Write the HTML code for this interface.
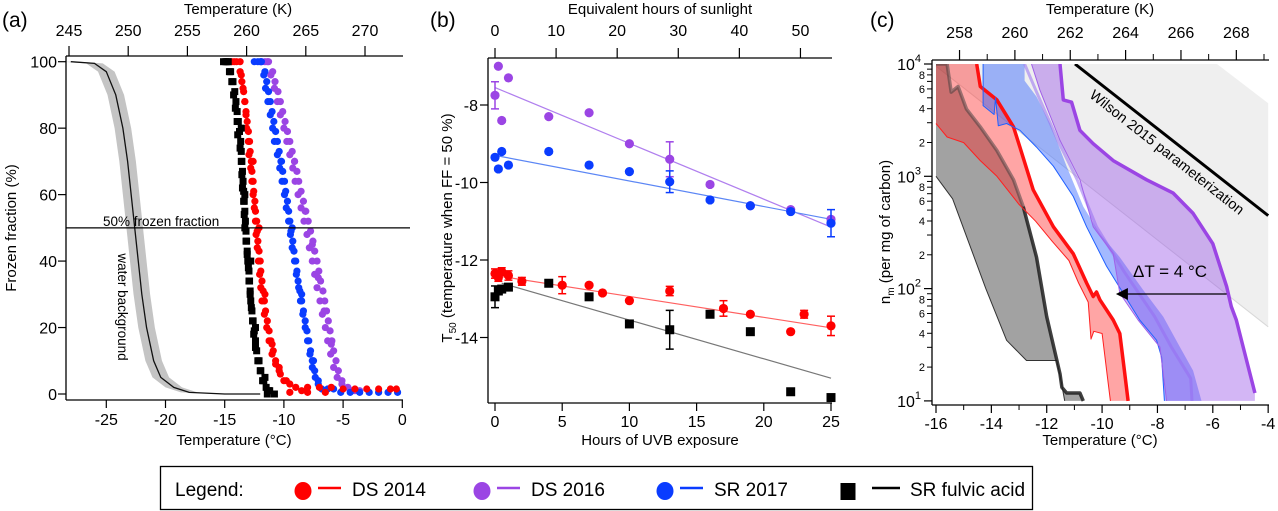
<!DOCTYPE html>
<html><head><meta charset="utf-8">
<style>
html,body{margin:0;padding:0;background:#fff;}
svg{display:block;font-family:"Liberation Sans",Arial,sans-serif;}
</style></head>
<body>
<svg id="fig" width="1278" height="511" viewBox="0 0 1278 511" xmlns="http://www.w3.org/2000/svg">
<defs>
<clipPath id="clipC"><rect x="933" y="64" width="336" height="338"/></clipPath>
</defs>
</svg>
<script>
// ---------- Panel (a) data: [temperature °C, frozen fraction %] ----------
const waterCurve = [[-28,100],[-26,99.5],[-25.0,97],[-24.2,90],[-23.6,80],[-23.2,70],[-22.9,60],[-22.6,50],[-22.3,40],[-22.0,30],[-21.6,20],[-21.0,10],[-20.4,5],[-19.3,2],[-18,0.5],[-15,0],[-12,0]];
const ffLevels = [100,97,94,91,88,85,82,79,76,73,70,67,64,61,58,55,52,49,46,43,40,37,34,31,28,25,22,19,16,13,10,7,4,1];
const fulvicLevelT = [-14.8,-14.5,-14.3,-14.15,-14.05,-13.95,-13.85,-13.75,-13.65,-13.6,-13.55,-13.5,-13.45,-13.4,-13.35,-13.3,-13.25,-13.2,-13.15,-13.1,-13.05,-12.95,-12.9,-12.85,-12.8,-12.7,-12.6,-12.5,-12.4,-12.3,-12.1,-11.95,-11.7,-11.3];
const ds2014LevelT = [-14.2,-13.7,-13.55,-13.4,-13.3,-13.2,-13.1,-13.0,-12.9,-12.85,-12.75,-12.7,-12.6,-12.55,-12.45,-12.4,-12.3,-12.25,-12.2,-12.1,-12.0,-11.95,-11.85,-11.75,-11.65,-11.55,-11.4,-11.25,-11.1,-10.9,-10.7,-10.4,-9.8,-8.5];
const sr2017LevelT = [-12.0,-11.6,-11.45,-11.3,-11.15,-11.0,-10.85,-10.7,-10.55,-10.4,-10.25,-10.1,-9.95,-9.85,-9.7,-9.6,-9.5,-9.4,-9.25,-9.15,-9.0,-8.9,-8.8,-8.65,-8.5,-8.35,-8.2,-8.05,-7.9,-7.75,-7.6,-7.4,-7.1,-6.5];
const ds2016LevelT = [-11.4,-10.95,-10.75,-10.5,-10.3,-10.1,-9.9,-9.7,-9.5,-9.3,-9.1,-8.9,-8.75,-8.55,-8.35,-8.15,-7.95,-7.75,-7.55,-7.4,-7.2,-7.05,-6.9,-6.7,-6.55,-6.4,-6.25,-6.1,-5.95,-5.8,-5.6,-5.4,-5.1,-4.3];
const ds2014A = [[-14.8,100],[-14.4,100],[-14.0,100],[-13.7,100],[-13.6,96],[-13.45,92],[-13.3,88],[-13.2,84],[-13.15,80],[-13.0,76],[-12.95,72],[-12.8,68],[-12.7,64],[-12.6,60],[-12.5,56],[-12.4,52],[-12.35,48],[-12.25,44],[-12.15,40],[-12.05,36],[-11.95,32],[-11.85,28],[-11.65,24],[-11.45,20],[-11.25,16],[-11.0,12],[-10.7,9],[-10.3,6],[-10.0,4],[-9.5,3],[-9.0,2],[-8.0,2],[-7.0,2],[-6.0,2],[-5,1.5],[-4,1.5],[-3,1.5],[-2,1.5],[-1,1.5],[-0.5,1.5],[-9.5,0.5],[-8,0.5],[-6.5,0.5],[-12.6,70],[-12.1,50],[-11.6,30],[-11.0,15],[-10.4,8]];
const ds2016A = [[-11.9,100],[-11.6,100],[-11.3,100],[-11.1,96],[-10.8,92],[-10.55,88],[-10.3,84],[-10.0,80],[-9.75,76],[-9.5,72],[-9.25,68],[-9.05,64],[-8.8,60],[-8.55,56],[-8.3,52],[-8.05,48],[-7.85,44],[-7.6,40],[-7.4,36],[-7.2,32],[-6.95,28],[-6.75,24],[-6.5,20],[-6.3,16],[-6.05,12],[-5.8,8],[-5.5,5],[-5.1,3],[-4.6,2],[-4.0,1],[-3.6,1],[-9.1,70],[-8.2,55],[-7.6,45],[-7.1,35],[-6.6,25],[-6.0,15]];
const sr2017A = [[-12.5,100],[-12.2,100],[-11.9,100],[-11.7,96],[-11.55,92],[-11.35,88],[-11.15,84],[-10.95,80],[-10.8,76],[-10.55,72],[-10.35,68],[-10.15,64],[-9.95,60],[-9.8,56],[-9.6,52],[-9.45,48],[-9.3,44],[-9.1,40],[-8.95,36],[-8.75,32],[-8.6,28],[-8.4,24],[-8.2,20],[-8.0,16],[-7.8,12],[-7.6,8],[-7.35,5],[-7.1,3],[-6.8,1.5],[-6.3,1.5],[-5.8,1.5],[-5.2,0.5],[-4.4,0.5],[-3.6,0.5],[-2.8,0.5],[-2,0.5],[-1.2,0.5],[-0.4,0.5],[-10.2,70],[-9.3,50],[-8.5,30],[-7.5,10]];
const fulvicA = [[-15.1,100],[-14.9,100],[-14.7,100],[-14.6,97],[-14.4,94],[-14.25,90],[-14.1,86],[-13.95,82],[-13.9,78],[-13.7,74],[-13.6,70],[-13.55,66],[-13.5,62],[-13.4,58],[-13.35,54],[-13.3,50],[-13.2,46],[-13.1,42],[-13.0,38],[-12.95,34],[-12.85,30],[-12.75,26],[-12.65,22],[-12.55,18],[-12.4,14],[-12.2,10],[-12.0,7],[-11.8,4],[-11.5,2],[-11.2,1],[-10.8,0],[-13.6,80],[-13.3,60],[-12.8,40],[-12.4,20],[-11.6,5],[-11.4,0]];
const aXTicks = [-25,-20,-15,-10,-5,0];
const aYTicks = [0,20,40,60,80,100];
const aKTicks = [245,250,255,260,265,270];

// ---------- Panel (b) data ----------
const hoursB = [0,0.25,0.5,1,4,7,10,13,16,19,22,25];
const ds2016B = [-7.75,-7.0,-8.4,-7.3,-8.3,-8.2,-9.0,-9.4,-10.05,-10.6,-10.7,-10.95];
const ds2016Err = [0.35,0,0,0,0,0,0,0.45,0,0,0,0];
const sr2017B = [-9.35,-9.65,-9.2,-9.55,-9.2,-9.55,-9.72,-9.98,-10.45,-10.6,-10.75,-11.05];
const sr2017Err = [0,0,0,0,0,0,0,0.28,0,0,0,0.35];
const hoursRed = [0,0.25,0.5,1,2,5,7,8,10,13,17,19,22,23,25];
const ds2014B = [-12.35,-12.45,-12.3,-12.4,-12.55,-12.65,-12.65,-12.85,-13.05,-12.8,-13.25,-13.4,-13.85,-13.4,-13.7];
const ds2014Err = [0.12,0.1,0.1,0.12,0.1,0.22,0,0,0,0.12,0.2,0,0,0.1,0.25];
const fulvicB = [-12.95,-12.8,-12.75,-12.7,-12.6,-12.95,-13.65,-13.8,-13.4,-13.85,-15.4,-15.55];
const fulvicErr = [0.28,0,0,0,0,0,0,0.5,0,0,0,0];
const fitDs2016 = [[0,-7.55],[25,-11.15]];
const fitSr2017 = [[0,-9.3],[25,-10.95]];
const fitDs2014 = [[0,-12.4],[25,-13.75]];
const fitFulvic = [[0.5,-12.6],[25,-15.05]];
const bXTicks = [0,5,10,15,20,25];
const bYTicks = [-8,-10,-12,-14];
const bTopTicks = [0,10,20,30,40,50];

// ---------- Panel (c) data: [temperature °C, log10 n_m] ----------
const fulvicUpper = [[-16,4],[-15.6,4],[-15.45,3.75],[-15.2,3.8],[-14.9,3.6],[-14.4,3.44],[-13.8,3.23],[-13.2,2.97],[-12.85,2.73],[-12.37,2.28],[-12.0,1.75],[-11.52,1.24],[-11.45,1.12],[-11.28,1.07],[-10.8,1.07],[-10.68,1.0]];
const fulvicLower = [[-16,3.0],[-15.4,2.8],[-14.8,2.4],[-14.2,2.0],[-13.45,1.54],[-12.73,1.36],[-11.64,1.36],[-11.5,1.2],[-11.35,1.0]];
const ds2014Right = [[-14.53,4],[-14.4,3.8],[-13.8,3.68],[-13.2,3.44],[-12.97,3.26],[-12.49,2.88],[-11.76,2.55],[-11.04,2.31],[-10.56,2.05],[-10.32,1.93],[-10.2,1.97],[-10.08,1.9],[-9.6,1.72],[-9.36,1.6],[-9.18,1.24],[-9.06,1.0]];
const ds2014Left = [[-16,3.47],[-15.6,3.35],[-15.0,3.3],[-14.4,3.14],[-13.8,3.0],[-13.0,2.75],[-12.4,2.6],[-11.8,2.42],[-11.2,2.25],[-10.85,2.05],[-10.5,1.88],[-10.4,1.55],[-10.3,1.62],[-10.0,1.6],[-9.8,1.2],[-9.7,1.0]];
const sr2017Right = [[-12.8,4],[-12.8,3.85],[-12.37,3.71],[-11.88,3.47],[-11.28,3.09],[-10.68,2.73],[-10.08,2.49],[-9.36,2.28],[-8.52,1.99],[-7.79,1.75],[-7.19,1.48],[-6.71,1.27],[-6.41,1.0]];
const sr2017Left = [[-14.3,4],[-14.3,3.63],[-13.9,3.55],[-13.85,3.7],[-13.75,3.45],[-13.45,3.47],[-12.97,3.41],[-12.37,3.26],[-11.76,3.09],[-11.04,2.82],[-10.56,2.55],[-9.84,2.2],[-9.24,1.96],[-8.64,1.72],[-8.03,1.54],[-7.85,1.39],[-7.75,1.0]];
const ds2016Right = [[-11.52,4],[-11.4,3.68],[-11.1,3.66],[-10.8,3.41],[-10.32,3.29],[-9.6,3.14],[-8.4,2.97],[-7.43,2.85],[-6.71,2.67],[-6.0,2.4],[-5.5,2.02],[-5.33,1.84],[-5.15,1.72],[-4.78,1.36],[-4.48,1.07]];
const ds2016Left = [[-12.55,4],[-12.25,3.77],[-11.52,3.32],[-10.8,2.97],[-10.32,2.55],[-9.6,2.31],[-9.36,1.96],[-8.7,1.72],[-7.91,1.48],[-7.67,1.0]];
const ds2016Mid = [[-12.8,4],[-12.4,3.77],[-11.6,3.32],[-10.9,2.97],[-10.2,2.55],[-9.2,2.15],[-8.1,1.75],[-7.5,1.48],[-6.8,1.2],[-6.75,1.0]];
const wilsonBand = [[-16,3.98],[-16,4],[-5.85,4],[-4,3.65],[-4,1.66]];
const wilsonLine = [[-10.98,4],[-4,2.65]];
const cXTicks = [-16,-14,-12,-10,-8,-6,-4];
const cDecades = [1,2,3,4];
const cKTicks = [258,260,262,264,266,268];

// ---------- helpers ----------
const NS='http://www.w3.org/2000/svg';
const svg=document.getElementById('fig');
function mk(tag, parent){const e=document.createElementNS(NS,tag);(parent||svg).appendChild(e);return e;}
function set(e,o){for(const k in o)e.setAttribute(k,o[k]);return e;}
function txt(s,x,y,size,anchor,parent){const t=mk('text',parent);set(t,{x:x,y:y,'font-size':size,'text-anchor':anchor||'middle',fill:'#000'});t.textContent=s;return t;}
function line(x1,y1,x2,y2,w,c,parent){const l=mk('line',parent);set(l,{x1:x1,y1:y1,x2:x2,y2:y2,stroke:c||'#000','stroke-width':w||1});return l;}

// scales
const ax=T=>402.3+T*11.84, ay=f=>394-f*3.323;
const bx=h=>495+h*13.44, by=v=>105-(v+8)*38.75;
const cx=T=>936+(T+16)*27.68, cy=L=>64+(4-L)*112.3;

// ================= Panel (a) =================
const gA=mk('g');


let t=txt('(a)',2,27,21,'start',gA);


const band=mk('path',gA);


{let up=waterCurve.map(p=>[ax(p[0]-0.7),ay(p[1])]);let lo=waterCurve.map(p=>[ax(p[0]+0.7),ay(p[1])]).reverse();
 band.setAttribute('d','M'+up.concat(lo).map(p=>p.join(',')).join('L')+'Z');band.setAttribute('fill','#c4c4c4');}
const wl=mk('polyline',gA);


set(wl,{points:waterCurve.map(p=>ax(p[0])+','+ay(p[1])).join(' '),fill:'none',stroke:'#111','stroke-width':1.3});
function scatterA(arr,levelT,color,square,name){
  const g=mk('g',gA);
  
  
  const pts=arr.concat(levelT.map((T,i)=>[T,ffLevels[i]]));
  pts.forEach(p=>{let m;
    if(square){m=mk('rect',g);set(m,{x:ax(p[0])-3.5,y:ay(p[1])-3.5,width:7,height:7,fill:color});}
    else{m=mk('circle',g);set(m,{cx:ax(p[0]),cy:ay(p[1]),r:3.6,fill:color});}
    
    
  });
}
scatterA(ds2016A,ds2016LevelT,'#9b45e4',false,'ds2016-frozen-fraction');
scatterA(sr2017A,sr2017LevelT,'#0a3cff',false,'sr2017-frozen-fraction');
scatterA(ds2014A,ds2014LevelT,'#ff0000',false,'ds2014-frozen-fraction');
scatterA(fulvicA,fulvicLevelT,'#000',true,'fulvic-frozen-fraction');
let hl=line(66,ay(50),410,ay(50),1.3,'#000',gA);


t=txt('50% frozen fraction',103,226,13.5,'start',gA);


t=txt('water background',0,0,13.5,'middle',gA);set(t,{transform:'translate(118,307) rotate(90)'});


let l=line(66,56,66,400,1.3,'#000',gA);
l=line(66,400,403,400,1.3,'#000',gA);
l=line(66,56,403,56,1.3,'#000',gA);
aYTicks.forEach(v=>{line(58,ay(v),66,ay(v),1.2,'#000',gA);let tt=txt(String(v),57,ay(v)+6,16,'end',gA);
  
  });
aXTicks.forEach(v=>{line(ax(v),400,ax(v),408,1.2,'#000',gA);let tt=txt(String(v),ax(v),425,16,'middle',gA);
  
  });
aKTicks.forEach(k=>{const x=ax(k-273.15);line(x,46,x,56,1.2,'#000',gA);let tt=txt(String(k),x,36,16,'middle',gA);
  
  });
t=txt('Temperature (°C)',234,445,15,'middle',gA);


t=txt('Temperature (K)',238,14,15,'middle',gA);


t=txt('Frozen fraction (%)',0,0,15,'middle',gA);set(t,{transform:'translate(16,228) rotate(-90)'});



// ================= Panel (b) =================
const gB=mk('g');


t=txt('(b)',430,27,21,'start',gB);


function fitLine(f,color,name){const e=line(bx(f[0][0]),by(f[0][1]),bx(f[1][0]),by(f[1][1]),1.2,color,gB);
  
  }
fitLine(fitDs2016,'#b07fee','ds2016-fit-line');
fitLine(fitSr2017,'#5b86f5','sr2017-fit-line');
fitLine(fitDs2014,'#ff6060','ds2014-fit-line');
fitLine(fitFulvic,'#777','fulvic-fit-line');
function scatterB(xs,ys,errs,color,square,name){
  const g=mk('g',gB);
  
  
  xs.forEach((h,i)=>{const x=bx(h),y=by(ys[i]);
    if(errs[i]>0){const e=errs[i];line(x,by(ys[i]+e),x,by(ys[i]-e),1.5,color,g);line(x-4,by(ys[i]+e),x+4,by(ys[i]+e),1.5,color,g);line(x-4,by(ys[i]-e),x+4,by(ys[i]-e),1.5,color,g);}
    let m;
    if(square){m=mk('rect',g);set(m,{x:x-4.5,y:y-4.5,width:9,height:9,fill:color});}
    else{m=mk('circle',g);set(m,{cx:x,cy:y,r:4.6,fill:color});}
    
    
  });
}
scatterB(hoursB,ds2016B,ds2016Err,'#9b45e4',false,'ds2016-t50');
scatterB(hoursB,sr2017B,sr2017Err,'#0a3cff',false,'sr2017-t50');
scatterB(hoursRed,ds2014B,ds2014Err,'#ff0000',false,'ds2014-t50');
scatterB(hoursB,fulvicB,fulvicErr,'#000',true,'fulvic-t50');
l=line(488,58,488,403,1.3,'#000',gB);
l=line(488,403,832,403,1.3,'#000',gB);
l=line(488,58,832,58,1.3,'#000',gB);
bYTicks.forEach(v=>{line(480,by(v),488,by(v),1.2,'#000',gB);let tt=txt(String(v),478,by(v)+6,16,'end',gB);
  
  });
bXTicks.forEach(v=>{line(bx(v),403,bx(v),411,1.2,'#000',gB);let tt=txt(String(v),bx(v),427,16,'middle',gB);
  
  });
bTopTicks.forEach(v=>{const x=bx(v/2.2);line(x,48,x,58,1.2,'#000',gB);let tt=txt(String(v),x,36,16,'middle',gB);
  
  });
t=txt('Hours of UVB exposure',660,445,15,'middle',gB);


t=txt('Equivalent hours of sunlight',660,14,15,'middle',gB);


t=mk('text',gB);set(t,{transform:'translate(452,228) rotate(-90)','font-size':15,'text-anchor':'middle'});
t.innerHTML='T<tspan font-size="10" dy="4">50</tspan><tspan dy="-4"> (temperature when FF = 50 %)</tspan>';



// ================= Panel (c) =================
const gC=mk('g');


t=txt('(c)',870,27,21,'start',gC);


const gCp=mk('g',gC);gCp.setAttribute('clip-path','url(#clipC)');


const P=arr=>arr.map(p=>cx(p[0]).toFixed(1)+','+cy(p[1]).toFixed(1));
function poly(pts,fill,name){const e=mk('path',gCp);set(e,{d:'M'+pts.join('L')+'Z',fill:fill});
  
  return e;}
function pl(arr,color,w,name){const e=mk('polyline',gCp);set(e,{points:P(arr).join(' '),fill:'none',stroke:color,'stroke-width':w,'stroke-linejoin':'round'});
  
  return e;}
poly(P(wilsonBand),'#efefef','wilson-band');
pl([wilsonBand[0],wilsonBand[4]],'#d8d8d8',1,'wilson-band-edge');
pl(wilsonLine,'#000',3,'wilson-2015-line');
poly(P(fulvicUpper).concat(P(fulvicLower).reverse()),'rgba(70,70,70,0.5)','fulvic-band');
poly(P([[-16,4]]).concat(P(ds2014Right)).concat(P(ds2014Left).reverse()),'rgba(255,40,40,0.42)','ds2014-band');
poly(P(sr2017Right).concat(P(sr2017Left).reverse()),'rgba(50,100,255,0.45)','sr2017-band');
poly(P(ds2016Right).concat([cx(-4.48)+','+cy(1)]).concat(P(ds2016Left).reverse()),'rgba(150,80,230,0.42)','ds2016-band');
pl(fulvicLower,'#333',1,'fulvic-lower-edge');
pl(fulvicUpper.slice(8),'rgba(30,30,30,0.85)',3.5,'fulvic-upper-edge');
pl(fulvicUpper.slice(0,9),'rgba(60,60,60,0.5)',3.5,'fulvic-upper-edge-faint');
pl(ds2014Left,'#ff2020',1,'ds2014-lower-edge');
pl(ds2014Right,'#ff1010',3.5,'ds2014-upper-edge');
pl(sr2017Left,'#2060ff',1,'sr2017-lower-edge');
pl(ds2016Mid,'rgba(150,110,240,0.55)',3,'ds2016-mid-line');
pl(ds2016Left,'#a060e8',1,'ds2016-lower-edge');
pl(ds2016Right,'#9b45e4',3.5,'ds2016-upper-edge');
t=txt('Wilson 2015 parameterization',0,0,14.5,'middle',gC);set(t,{transform:'translate(1164,156) rotate(38.2)'});


t=txt('ΔT = 4 °C',1170,277,17,'middle',gC);


l=line(cx(-5.5),294,cx(-9.3),294,1.3,'#000',gC);


const ah=mk('path',gC);set(ah,{d:'M'+(cx(-9.5))+',294 l12,-6 l0,12 z',fill:'#000'});


l=line(932,60,932,405,1.3,'#000',gC);
l=line(932,405,1269,405,1.3,'#000',gC);
l=line(932,60,1269,60,1.3,'#000',gC);
cDecades.forEach(d=>{const y=cy(d);line(924,y,932,y,1.2,'#000',gC);
  const tt=mk('text',gC);set(tt,{x:921,y:y+6,'font-size':16,'text-anchor':'end'});tt.innerHTML='10<tspan font-size="11" dy="-8">'+d+'</tspan>';
  
  
  if(d<4){for(let m=2;m<=9;m++){const ym=cy(d+Math.log10(m));line(927,ym,932,ym,1,'#000',gC);
    if(m%2===0){const mt=txt(String(m),925,ym+4,11,'end',gC);
      
      }}}
});
cXTicks.forEach(v=>{line(cx(v),405,cx(v),413,1.2,'#000',gC);let tt=txt(String(v),cx(v),429,16,'middle',gC);
  
  });
for(let v=-15;v<=-5;v+=2){line(cx(v),405,cx(v),410,1,'#000',gC);}
cKTicks.forEach(k=>{const x=cx(k-273.15);line(x,50,x,60,1.2,'#000',gC);line(x+27.68,54,x+27.68,60,1,'#000',gC);
  let tt=txt(String(k),x,38,16,'middle',gC);
  
  });
t=txt('Temperature (°C)',1100,445,15,'middle',gC);


t=txt('Temperature (K)',1100,14,15,'middle',gC);


t=mk('text',gC);set(t,{transform:'translate(890,232) rotate(-90)','font-size':15,'text-anchor':'middle'});
t.innerHTML='n<tspan font-size="10" dy="4">m</tspan><tspan dy="-4"> (per mg of carbon)</tspan>';



// ================= Legend =================
const gL=mk('g');


const lb=mk('rect',gL);set(lb,{x:160.5,y:466.5,width:872,height:43,fill:'#fff',stroke:'#000','stroke-width':1.3});


t=txt('Legend:',175,496,19,'start',gL);


function legEntry(mx,color,square,label,name){
  const g=mk('g',gL);
  
  
  if(square){const r=mk('rect',g);set(r,{x:mx-7.5,y:483,width:15,height:17,fill:color});}
  else{const c=mk('ellipse',g);set(c,{cx:mx,cy:491,rx:8.5,ry:9,fill:color});}
  line(mx+(square?24:15),488,mx+(square?52:38),488,2.5,color,g);
  txt(label,mx+(square?62:49),496,19,'start',g);
}
legEntry(303,'#ff0000',false,'DS 2014','legend-ds2014');
legEntry(482,'#9b45e4',false,'DS 2016','legend-ds2016');
legEntry(665,'#0a3cff',false,'SR 2017','legend-sr2017');
legEntry(848,'#000',true,'SR fulvic acid','legend-fulvic');
</script>
</body></html>
